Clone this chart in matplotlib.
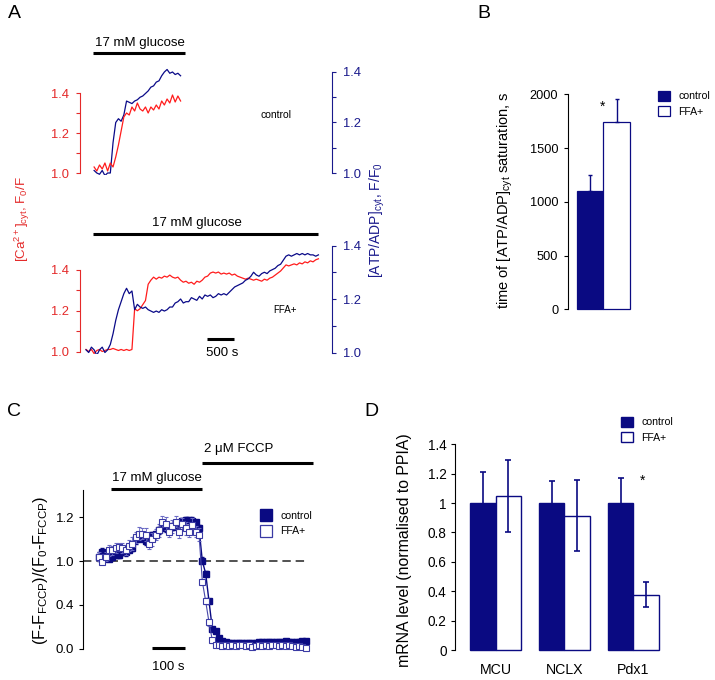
import numpy as np
import matplotlib
matplotlib.use('Agg')
import matplotlib.pyplot as plt
from matplotlib.lines import Line2D
from matplotlib.transforms import blended_transform_factory as blend

plt.rcParams['font.family'] = ['Liberation Sans', 'DejaVu Sans']
plt.rcParams['mathtext.fontset'] = 'custom'
plt.rcParams['mathtext.rm'] = 'Liberation Sans'
plt.rcParams['mathtext.it'] = 'Liberation Sans:italic'
plt.rcParams['axes.linewidth'] = 0.8

# ---------------- data ----------------
# A, control trace (s, ratio)
t_ctrl = np.arange(150, 1751, 50)
ca_ctrl = [1.03, 1.01, 1.04, 1.02, 1.05, 1.01, 1.05, 1.03, 1.08, 1.14, 1.21,
           1.28, 1.30, 1.29, 1.33, 1.31, 1.35, 1.32, 1.31, 1.33, 1.30, 1.33,
           1.315, 1.34, 1.32, 1.36, 1.34, 1.37, 1.35, 1.39, 1.355, 1.385, 1.36]
atp_ctrl = [1.01, 1.00, 0.995, 1.01, 0.99, 1.00, 1.00, 1.12, 1.20, 1.215, 1.205,
            1.23, 1.285, 1.28, 1.275, 1.285, 1.29, 1.30, 1.305, 1.315, 1.325,
            1.34, 1.345, 1.36, 1.365, 1.385, 1.40, 1.41, 1.395, 1.40, 1.39,
            1.395, 1.385]

# A, FFA+ trace
t_ffa = np.arange(0, 4301, 50)
ca_ffa = [1.01, 1.0, 1.01, 0.99, 1.005, 1.01, 1.0, 1.005, 1.01, 1.01, 1.015,
          1.01, 1.005, 1.01, 1.005, 1.01, 1.005, 1.01, 1.21, 1.20, 1.21, 1.23,
          1.25, 1.33, 1.35, 1.365, 1.355, 1.365, 1.36, 1.37, 1.365, 1.375,
          1.365, 1.36, 1.365, 1.35, 1.34, 1.345, 1.335, 1.34, 1.33, 1.345,
          1.34, 1.35, 1.365, 1.37, 1.385, 1.39, 1.385, 1.39, 1.38, 1.385,
          1.38, 1.385, 1.375, 1.38, 1.37, 1.365, 1.36, 1.355, 1.36, 1.355,
          1.35, 1.355, 1.35, 1.345, 1.355, 1.35, 1.36, 1.365, 1.375, 1.385,
          1.395, 1.41, 1.425, 1.42, 1.425, 1.43, 1.425, 1.435, 1.43, 1.44,
          1.435, 1.445, 1.44, 1.45, 1.455]
atp_ffa = [1.01, 1.00, 1.02, 1.01, 0.99, 1.01, 1.02, 1.00, 1.01, 1.03, 1.07,
           1.12, 1.16, 1.19, 1.22, 1.24, 1.22, 1.23, 1.16, 1.18, 1.17, 1.165,
           1.17, 1.16, 1.155, 1.15, 1.155, 1.15, 1.16, 1.155, 1.16, 1.17,
           1.17, 1.185, 1.19, 1.20, 1.185, 1.19, 1.19, 1.205, 1.20, 1.195,
           1.21, 1.20, 1.215, 1.21, 1.215, 1.205, 1.21, 1.22, 1.215, 1.22,
           1.215, 1.225, 1.235, 1.245, 1.25, 1.255, 1.26, 1.27, 1.275, 1.285,
           1.30, 1.29, 1.285, 1.295, 1.30, 1.295, 1.305, 1.31, 1.315, 1.325,
           1.33, 1.345, 1.36, 1.365, 1.36, 1.365, 1.37, 1.365, 1.37, 1.365,
           1.37, 1.365, 1.365, 1.36, 1.365]
glc_ctrl = [130, 1830]
glc_ffa = [130, 4290]
scale_A = [2240, 2740]

# B
b_groups = ['control', 'FFA+']
b_vals = [1100, 1740]
b_err = [150, 215]

# C
t_c = np.arange(0, 621, 10)
c_ctrl = [1.02, 1.04, 1.02, 1.01, 1.02, 1.03, 1.03, 1.04, 1.04, 1.05, 1.06,
          1.10, 1.12, 1.10, 1.09, 1.10, 1.12, 1.125, 1.14, 1.155, 1.15, 1.15,
          1.157, 1.165, 1.175, 1.185, 1.188, 1.188, 1.185, 1.18, 1.15, 1.00,
          0.83, 0.45, 0.18, 0.16, 0.10, 0.07, 0.06, 0.055, 0.05, 0.05, 0.05,
          0.05, 0.05, 0.055, 0.05, 0.055, 0.06, 0.06, 0.06, 0.06, 0.065,
          0.065, 0.065, 0.065, 0.07, 0.065, 0.065, 0.06, 0.065, 0.07, 0.07]
e_ctrl = [0.02, 0.02, 0.015, 0.01, 0.015, 0.01, 0.015, 0.01, 0.015, 0.01,
          0.015, 0.02, 0.015, 0.01, 0.015, 0.01, 0.015, 0.01, 0.015, 0.01,
          0.015, 0.01, 0.015, 0.01, 0.015, 0.01, 0.015, 0.01, 0.015, 0.01,
          0.015, 0.02, 0.03, 0.03, 0.02, 0.015, 0.01, 0.01, 0.01, 0.01, 0.01,
          0.01, 0.01, 0.01, 0.01, 0.01, 0.01, 0.01, 0.01, 0.01, 0.01, 0.01,
          0.01, 0.01, 0.01, 0.01, 0.01, 0.01, 0.01, 0.01, 0.01, 0.01, 0.01]
c_ffa = [1.02, 0.99, 1.02, 1.05, 1.05, 1.06, 1.065, 1.06, 1.05, 1.07, 1.08,
         1.11, 1.125, 1.125, 1.12, 1.08, 1.10, 1.12, 1.14, 1.18, 1.17, 1.135,
         1.16, 1.18, 1.135, 1.17, 1.15, 1.135, 1.165, 1.135, 1.12, 0.72, 0.45,
         0.24, 0.075, 0.035, 0.03, 0.025, 0.03, 0.025, 0.03, 0.025, 0.03,
         0.03, 0.025, 0.03, 0.02, 0.025, 0.03, 0.025, 0.03, 0.025, 0.03,
         0.03, 0.025, 0.03, 0.025, 0.03, 0.025, 0.02, 0.025, 0.02, 0.01]
e_ffa = [0.02, 0.02, 0.02, 0.025, 0.02, 0.025, 0.02, 0.025, 0.02, 0.025, 0.03,
         0.025, 0.03, 0.025, 0.03, 0.025, 0.03, 0.025, 0.03, 0.025, 0.03,
         0.025, 0.03, 0.025, 0.03, 0.025, 0.03, 0.025, 0.03, 0.025, 0.03,
         0.04, 0.04, 0.03, 0.02, 0.015, 0.015, 0.015, 0.015, 0.015, 0.015,
         0.015, 0.015, 0.015, 0.015, 0.015, 0.015, 0.015, 0.015, 0.015,
         0.015, 0.015, 0.015, 0.015, 0.015, 0.015, 0.015, 0.015, 0.015,
         0.015, 0.015, 0.015, 0.015]
glc_c = [36, 309]
fccp_c = [309, 642]
scale_C = [159, 259]

# D
genes = ['MCU', 'NCLX', 'Pdx1']
d_ctrl = [1.0, 1.0, 1.0]
d_ctrl_err = [0.21, 0.15, 0.17]
d_ffa = [1.045, 0.915, 0.375]
d_ffa_err = [0.245, 0.24, 0.085]

# ---------------- styling ----------------
navy = '#0a0a82'
red_ax = '#e42a2a'
red_tr = '#ff1c1c'
blue_ax = '#1a1a8c'
blue_tr = '#0a0a88'
open_edge = '#3a3aa4'

W, H = 715, 680
fig = plt.figure(figsize=(W / 100, H / 100), dpi=100)


def box(l, t, r, b):
    return [l / W, 1 - b / H, (r - l) / W, (b - t) / H]


def ftext(px, py, s, **kw):
    kw.setdefault('ha', 'center')
    kw.setdefault('va', 'center')
    return fig.text(px / W, 1 - py / H, s, **kw)


# ---------------- A ----------------
A_xlim = ((80 - 86) * 18.5, (332 - 86) * 18.5)


def trace_axes(top, bottom, red_px, blue_px):
    ax = fig.add_axes(box(80, top, 332, bottom))
    ax2 = ax.twinx()
    for a, (p10, p14), col, side in ((ax, red_px, red_ax, 'left'),
                                     (ax2, blue_px, blue_ax, 'right')):
        k = (p10 - p14) / 0.4
        a.set_ylim(1.0 - (bottom - p10) / k, 1.0 + (p10 - top) / k)
        for s in a.spines.values():
            s.set_visible(False)
        a.spines[side].set_visible(True)
        a.spines[side].set_color(col)
        a.spines[side].set_bounds(1.0, 1.4)
        a.set_yticks([1.0, 1.2, 1.4])
        a.set_yticks([1.1, 1.3], minor=True)
        a.yaxis.set_major_formatter('{x:.1f}')
        a.tick_params(axis='y', which='both', length=3, width=0.8, color=col,
                      labelcolor=col, labelsize=9.3, pad=5)
        a.patch.set_visible(False)
    ax.set_xlim(*A_xlim)
    ax.set_xticks([])
    return ax, ax2


axA1, axA1b = trace_axes(60, 175, (173, 93), (173, 72))
axA1b.plot(t_ctrl, atp_ctrl, color=blue_tr, lw=0.9)
axA1.plot(t_ctrl, ca_ctrl, color=red_tr, lw=0.9)
axA1.set_zorder(axA1b.get_zorder() + 1)
tr = blend(axA1.transData, axA1.transAxes)
axA1.plot(glc_ctrl, [(175 - 53) / 115] * 2, color='k', lw=2.2,
          transform=tr, clip_on=False, solid_capstyle='butt')
ftext(140, 43, '17 mM glucose', fontsize=9.5)
ftext(276, 115, 'control', fontsize=7.5)

axA2, axA2b = trace_axes(238, 354, (351.5, 270), (352.5, 245.5))
axA2.plot(t_ffa, ca_ffa, color=red_tr, lw=0.9)
axA2b.plot(t_ffa, atp_ffa, color=blue_tr, lw=0.9)
tr = blend(axA2.transData, axA2.transAxes)
axA2.plot(glc_ffa, [(354 - 234) / 116] * 2, color='k', lw=2.2,
          transform=tr, clip_on=False, solid_capstyle='butt')
axA2.plot(scale_A, [(354 - 339) / 116] * 2, color='k', lw=2.2,
          transform=tr, clip_on=False, solid_capstyle='butt')
ftext(197, 223, '17 mM glucose', fontsize=9.5)
ftext(285, 310, 'FFA+', fontsize=7)
ftext(222, 353, '500 s', fontsize=9.5)

ftext(22, 219, r'[Ca$^{2+}$]$_{\rm cyt}$, F$_{\rm 0}$/F', rotation=90,
      color=red_ax, fontsize=9.6)
ftext(377, 220, r'[ATP/ADP]$_{\rm cyt}$, F/F$_{\rm 0}$', rotation=90,
      color=blue_ax, fontsize=10)

# ---------------- B ----------------
axB = fig.add_axes(box(568, 94.3, 640, 309.3))
xb = np.arange(len(b_vals)) + 0.5
bars = axB.bar(xb, b_vals, width=1.0, color=[navy, 'white'],
               edgecolor=navy, lw=0.9, clip_on=False)
axB.errorbar(xb, b_vals, yerr=[[0] * len(b_err), b_err], fmt='none',
             ecolor=navy, elinewidth=1.0, capsize=1.6, capthick=1.0)
axB.set_xlim(-0.34, 2.38)
axB.set_ylim(0, 2000)
for s in ('top', 'right', 'bottom'):
    axB.spines[s].set_visible(False)
axB.set_xticks([])
axB.set_yticks([0, 500, 1000, 1500, 2000])
axB.tick_params(axis='y', length=3, width=0.8, labelsize=9.2, pad=4)
axB.text(0.98, 1880, '*', ha='center', va='center', fontsize=10)
ftext(505, 200, r'time of [ATP/ADP]$_{\rm cyt}$ saturation, s', rotation=90,
      fontsize=10.5)
axB.legend([bars[0], bars[1]], b_groups, loc='upper left',
           bbox_to_anchor=(658 / W, 1 - 91 / H), bbox_transform=fig.transFigure,
           frameon=False, fontsize=7.6, handlelength=1.15, handleheight=1.05,
           handletextpad=0.8, labelspacing=0.45, borderpad=0, borderaxespad=0)


# ---------------- C ----------------
def fwd(v):
    v = np.asarray(v, dtype=float)
    return np.where(v < 0.4, v, np.where(v < 1.0, 0.4 + (v - 0.4) * 2 / 3,
                                         0.8 + (v - 1.0) * 2))


def inv(p):
    p = np.asarray(p, dtype=float)
    return np.where(p < 0.4, p, np.where(p < 0.8, 0.4 + (p - 0.4) * 1.5,
                                         1.0 + (p - 0.8) / 2))


axC = fig.add_axes(box(82.7, 490, 315, 648.7))
axC.set_yscale('function', functions=(fwd, inv))
axC.set_ylim(0, 1.325)
axC.set_xlim(-49, 648)
axC.hlines(1.0, axC.get_xlim()[0], t_c[-1], colors='#222222',
           linestyles=(0, (5.5, 3.2)), lw=1.1, zorder=1)
axC.errorbar(t_c, c_ctrl, yerr=e_ctrl, fmt='-s', color=navy, ms=4.8,
             mfc=navy, mec=navy, lw=1.0, elinewidth=0.7, capsize=1.3,
             clip_on=False, zorder=3)
axC.errorbar(t_c, c_ffa, yerr=e_ffa, fmt='-s', color='#4848aa', ms=4.8,
             mfc='white', mec=open_edge, mew=0.8, lw=0.8, ecolor='#6a6ac4',
             elinewidth=0.6, capsize=1.3, clip_on=False, zorder=4)
for s in ('top', 'right', 'bottom'):
    axC.spines[s].set_visible(False)
axC.set_xticks([])
axC.set_yticks([0.0, 0.4, 1.0, 1.2])
axC.yaxis.set_major_formatter('{x:.1f}')
axC.yaxis.set_minor_locator(matplotlib.ticker.NullLocator())
axC.tick_params(axis='y', length=3, width=0.8, labelsize=9.5, pad=3)
tr = blend(axC.transData, axC.transAxes)
for seg, py in ((glc_c, 489.3), (fccp_c, 463.3), (scale_C, 648.3)):
    axC.plot(seg, [(648.7 - py) / 158.7] * 2, color='k', lw=2.2,
             transform=tr, clip_on=False, solid_capstyle='butt')
ftext(157, 478, '17 mM glucose', fontsize=9.5)
ftext(239, 449, '2 μM FCCP', fontsize=9.5)
ftext(168, 667, '100 s', fontsize=9.5)
ftext(41, 571, r'(F-F$_{\rm FCCP}$)/(F$_{\rm 0}$-F$_{\rm FCCP}$)', rotation=90,
      fontsize=11.8)
hC = [Line2D([], [], ls='none', marker='s', ms=8.6, mfc=navy, mec=navy),
      Line2D([], [], ls='none', marker='s', ms=8.6, mfc='white', mec=open_edge,
             mew=0.9)]
axC.legend(hC, b_groups, loc='upper left',
           bbox_to_anchor=(260 / W, 1 - 511 / H), bbox_transform=fig.transFigure,
           frameon=False, fontsize=7.6, handlelength=1.2, handletextpad=0.7,
           labelspacing=0.5, borderpad=0, borderaxespad=0)

# ---------------- D ----------------
axD = fig.add_axes(box(455, 444.3, 665, 650))
xd = np.arange(len(genes))
w = 0.37
bc = axD.bar(xd - w / 2, d_ctrl, w, color=navy, edgecolor=navy, lw=1.0,
             clip_on=False)
bf = axD.bar(xd + w / 2, d_ffa, w, color='white', edgecolor=navy, lw=1.0,
             clip_on=False)
axD.errorbar(xd - w / 2, d_ctrl, yerr=d_ctrl_err, fmt='none', ecolor=navy,
             elinewidth=1.2, capsize=2.5, capthick=1.2)
axD.errorbar(xd + w / 2, d_ffa, yerr=d_ffa_err, fmt='none', ecolor=navy,
             elinewidth=1.2, capsize=2.5, capthick=1.2)
axD.set_xlim(-0.59, 2.46)
axD.set_ylim(0, 1.4)
for s in ('top', 'right', 'bottom'):
    axD.spines[s].set_visible(False)
axD.set_yticks([0, 0.2, 0.4, 0.6, 0.8, 1.0, 1.2, 1.4])
axD.yaxis.set_major_formatter('{x:g}')
axD.tick_params(axis='y', length=3, width=0.8, labelsize=9.8, pad=3)
axD.set_xticks(xd)
axD.set_xticklabels(genes, fontsize=10.2)
axD.tick_params(axis='x', length=0, pad=9)
axD.text(2.14, 1.15, '*', ha='center', va='center', fontsize=10)
ftext(404, 550, 'mRNA level (normalised to PPIA)', rotation=90, fontsize=11.4)
axD.legend([bc[0], bf[0]], b_groups, loc='upper left',
           bbox_to_anchor=(621 / W, 1 - 417 / H), bbox_transform=fig.transFigure,
           frameon=False, fontsize=7.6, handlelength=1.1, handleheight=1.05,
           handletextpad=0.8, labelspacing=0.45, borderpad=0, borderaxespad=0)

# panel letters
ftext(14, 13, 'A', fontsize=14)
ftext(484, 13, 'B', fontsize=14)
ftext(14, 412, 'C', fontsize=14)
ftext(371, 412, 'D', fontsize=14)

fig.savefig('out.png', dpi=100)
